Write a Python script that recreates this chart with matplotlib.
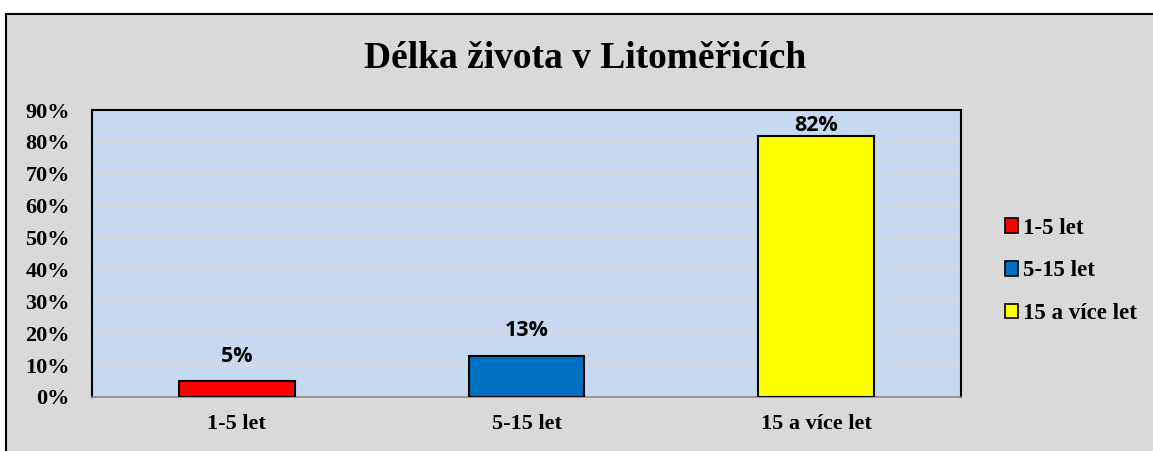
import matplotlib.pyplot as plt
from matplotlib.patches import Rectangle, Patch

categories = ["1-5 let", "5-15 let", "15 a více let"]
values = [5, 13, 82]
colors = ["#ff0000", "#0070c0", "#ffff00"]
yticks = [0, 10, 20, 30, 40, 50, 60, 70, 80, 90]
title = "Délka života v Litoměřicích"

W, H = 1153, 451
fig = plt.figure(figsize=(W / 100, H / 100), dpi=100)
fig.patch.set_facecolor("white")

# grey chart box with black border (cropped at right and bottom)
fig.add_artist(Rectangle((6 / W, -0.02), 1.05, (H - 14) / H + 0.02,
                         transform=fig.transFigure, facecolor="#d9d9d9",
                         edgecolor="black", linewidth=1.5, zorder=-10))

ax = fig.add_axes([92 / W, (H - 397) / H, (961 - 92) / W, (397 - 110) / H])
ax.set_facecolor("#c6d9f1")

x = range(len(categories))
ax.bar(x, values, width=0.4, color=colors, edgecolor="black", linewidth=1.5, zorder=3)

ax.set_ylim(0, 90)
ax.set_xlim(-0.5, 2.5)
ax.set_yticks(yticks)
ax.set_yticklabels([f"{t}%" for t in yticks], family="Liberation Serif",
                   fontweight="bold", fontsize=16)
ax.set_xticks(list(x))
ax.set_xticklabels(categories, family="Liberation Serif", fontweight="bold", fontsize=16)
ax.tick_params(axis="y", length=0, pad=16)
ax.tick_params(axis="x", length=0, pad=12)
ax.yaxis.grid(True, color="#d9d9d9", linewidth=1.2, zorder=0)
ax.set_axisbelow(True)

for s in ["left", "top", "right"]:
    ax.spines[s].set_color("black")
    ax.spines[s].set_linewidth(1.5)
ax.spines["bottom"].set_color("#8c8c8c")
ax.spines["bottom"].set_linewidth(1.2)

# data labels (Excel pulls the top one down to stay inside the plot)
for i, v in enumerate(values):
    off = 18 if v < 75 else 7
    ax.annotate(f"{v}%", (i, v), xytext=(0, off), textcoords="offset points",
                ha="center", va="center", family="Open Sans", fontweight="bold",
                fontsize=15.5, zorder=4)

fig.text(585 / W, 1 - 58 / H, title, ha="center", va="center",
         family="Liberation Serif", fontweight="bold", fontsize=27)

handles = [Patch(facecolor=c, edgecolor="black", linewidth=1.2) for c in colors]
fig.legend(handles, categories, loc="center left", bbox_to_anchor=(984 / W, 1 - 271 / H),
           frameon=False, prop={"family": "Liberation Serif", "weight": "bold", "size": 16.5},
           handlelength=0.6, handleheight=0.6, handletextpad=0.2, labelspacing=0.95)

fig.savefig("out.png", dpi=100)
